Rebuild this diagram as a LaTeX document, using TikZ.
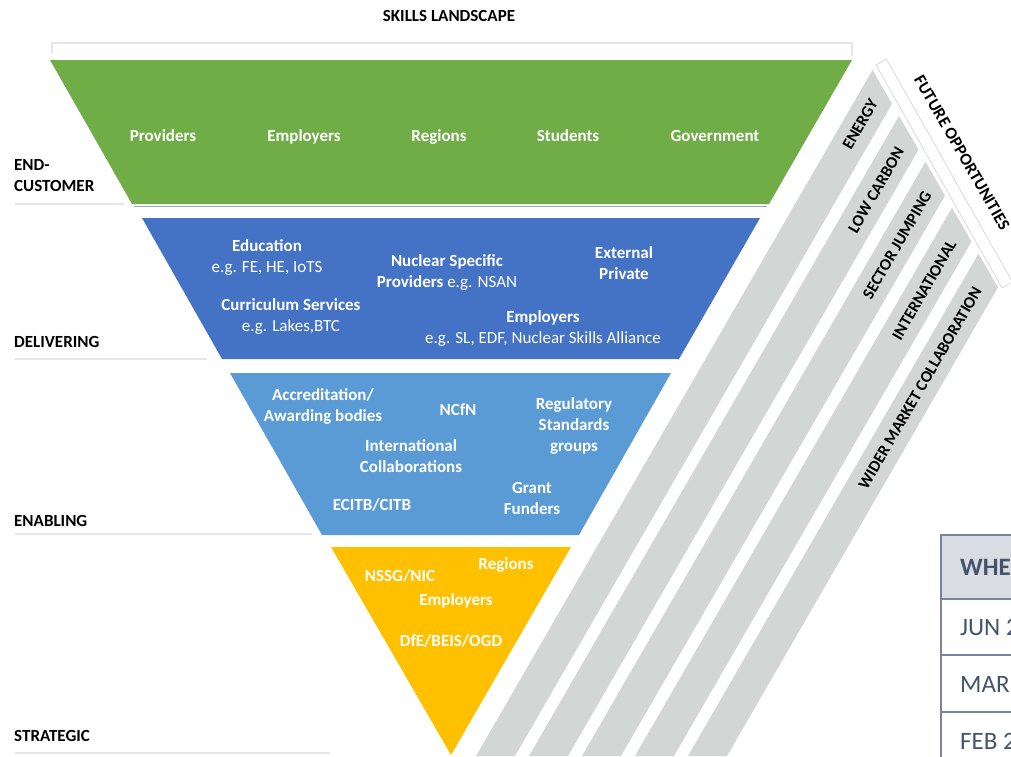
\documentclass[tikz,border=0pt]{standalone}
\usepackage{fontspec}
\setmainfont{Carlito}
\definecolor{pgreen}{HTML}{70AD47}
\definecolor{pblue}{HTML}{4472C4}
\definecolor{plblue}{HTML}{5B9BD5}
\definecolor{pyellow}{HTML}{FFC000}
\definecolor{stripegray}{HTML}{D2D6D5}
\definecolor{rulegray}{HTML}{E7E6E6}
\definecolor{sepblue}{HTML}{8FAADC}
\definecolor{bandline}{HTML}{DADADA}
\definecolor{tabline}{HTML}{75869C}
\definecolor{tabhead}{HTML}{D9DDE3}
\definecolor{tabtext}{HTML}{44546A}
\begin{document}
\begin{tikzpicture}[x=1pt,y=-1pt,
  one/.style={text height=11pt,text depth=0pt},
  wt/.style={text=white,font=\fontsize{17}{21}\selectfont\bfseries,align=center,inner sep=0pt},
  wr/.style={text=white,font=\fontsize{17}{21}\selectfont,align=center,inner sep=0pt},
  lbl/.style={anchor=west,font=\fontsize{17}{21}\selectfont\bfseries,inner sep=0pt,one},
  striptxt/.style={font=\fontsize{16.5}{20}\selectfont\bfseries,inner sep=0pt,one},
  undl/.style={rulegray,line width=2pt},
  tabtxt/.style={anchor=west,text=tabtext,font=\fontsize{25}{29}\selectfont,inner sep=0pt,text height=16.5pt,text depth=0pt}
]
\useasboundingbox (0,0) rectangle (1011,756);
\clip (0,0) rectangle (1011,756);

% title and bracket
\node[font=\fontsize{17}{21}\selectfont\bfseries,inner sep=0pt,one] (title) at (449,15.5) {SKILLS LANDSCAPE};
\draw[rulegray,line width=1.5pt] (52,54) -- (52,43) -- (852,43) -- (852,56);

% pyramid layers
\fill[pgreen] (50,60) -- (852,60) -- (769,204) -- (132,204) -- cycle;
\draw[sepblue,line width=1.2pt] (134,206.5) -- (767,206.5);
\fill[pblue] (142,218) -- (760,218) -- (679,359) -- (222,359) -- cycle;
\fill[plblue] (230,373) -- (671,373) -- (579,535) -- (322,535) -- cycle;
\fill[pyellow] (331,547) -- (571,547) -- (451,755) -- cycle;

% left labels and underlines
\node[lbl] (end1) at (14,165) {END-};
\node[lbl] (end2) at (14,186) {CUSTOMER};
\node[lbl] (deliv) at (14,342) {DELIVERING};
\node[lbl] (enab) at (14,521) {ENABLING};
\node[lbl] (strat) at (14,736) {STRATEGIC};
\draw[undl] (15,204) -- (124,204);
\draw[undl] (15,359) -- (207,359);
\draw[undl] (15,534) -- (312,534);
\draw[undl] (15,753) -- (330,753);

% green row
\node[wt,one] (prov) at (163,136) {Providers};
\node[wt,one] (empl) at (304,136) {Employers};
\node[wt,one] (regs) at (439,136) {Regions};
\node[wt,one] (stud) at (568,136) {Students};
\node[wt,one] (govt) at (715,136) {Government};

% dark blue row
\node[wr] (edu) at (267,257.5) {\textbf{Education}\\e.g. FE, HE, IoTS};
\node[wr] (curr) at (291,316) {\textbf{Curriculum Services}\\e.g. Lakes,BTC};
\node[wr] (nucl) at (447,272.5) {\textbf{Nuclear Specific}\\\textbf{Providers} e.g. NSAN};
\node[wt] (extp) at (624,263) {External\\Private};
\node[wr] (emp2) at (543,328) {\textbf{Employers}\\e.g. SL, EDF, Nuclear Skills Alliance};

% light blue row
\node[wt] (accr) at (323,406.5) {Accreditation/\\Awarding bodies};
\node[wt,one] (ncfn) at (458,410) {NCfN};
\node[wt] (regu) at (574,425.5) {Regulatory\\Standards\\groups};
\node[wt] (intl) at (411,456.5) {International\\Collaborations};
\node[wt,one] (ecit) at (372,505) {ECITB/CITB};
\node[wt] (grnt) at (532,498.5) {Grant\\Funders};

% yellow row
\node[wt,one] (nssg) at (400,576) {NSSG/NIC};
\node[wt,one] (yreg) at (506,564) {Regions};
\node[wt,one] (yemp) at (456,600) {Employers};
\node[wt,one] (dfe) at (451,641) {DfE/BEIS/OGD};

% future opportunities band
\filldraw[fill=white,draw=bandline,line width=0.8pt] (876,65) -- (886.4,59) -- (1012.4,282) -- (1002,288) -- cycle;
\node[striptxt,rotate=-60,font=\fontsize{17}{20}\selectfont\bfseries] (fut) at (962,152.5) {FUTURE OPPORTUNITIES};

% stripes
\foreach \i in {0,...,4}{
  \fill[stripegray] ({476+53*\i},756) -- ({515+53*\i},756) -- ({892+26.5*\i},{103.8+45.9*\i}) -- ({872.5+26.5*\i},{70+45.9*\i}) -- cycle;
}
\node[striptxt,rotate=60] (s1) at (860,124) {ENERGY};
\node[striptxt,rotate=60] (s2) at (876,190) {LOW CARBON};
\node[striptxt,rotate=60] (s3) at (897,245) {SECTOR JUMPING};
\node[striptxt,rotate=60] (s4) at (924,290) {INTERNATIONAL};
\node[striptxt,rotate=60] (s5) at (920,388) {WIDER MARKET COLLABORATION};

% table (cut by the right edge)
\fill[tabhead] (941,535) rectangle (1015,599);
\draw[tabline,line width=1.5pt] (1015,535) -- (941,535) -- (941,760);
\draw[tabline,line width=1.2pt] (941,599) -- (1015,599);
\draw[tabline,line width=1.2pt] (941,655) -- (1015,655);
\draw[tabline,line width=1.2pt] (941,712) -- (1015,712);
\node[tabtxt,font=\fontsize{25}{29}\selectfont\bfseries] (when) at (960,567) {WHEN};
\node[tabtxt] (jun) at (960,627) {JUN 2};
\node[tabtxt] (mar) at (960,684) {MAR 2};
\node[tabtxt] (feb) at (960,741) {FEB 2};
\end{tikzpicture}
\end{document}
